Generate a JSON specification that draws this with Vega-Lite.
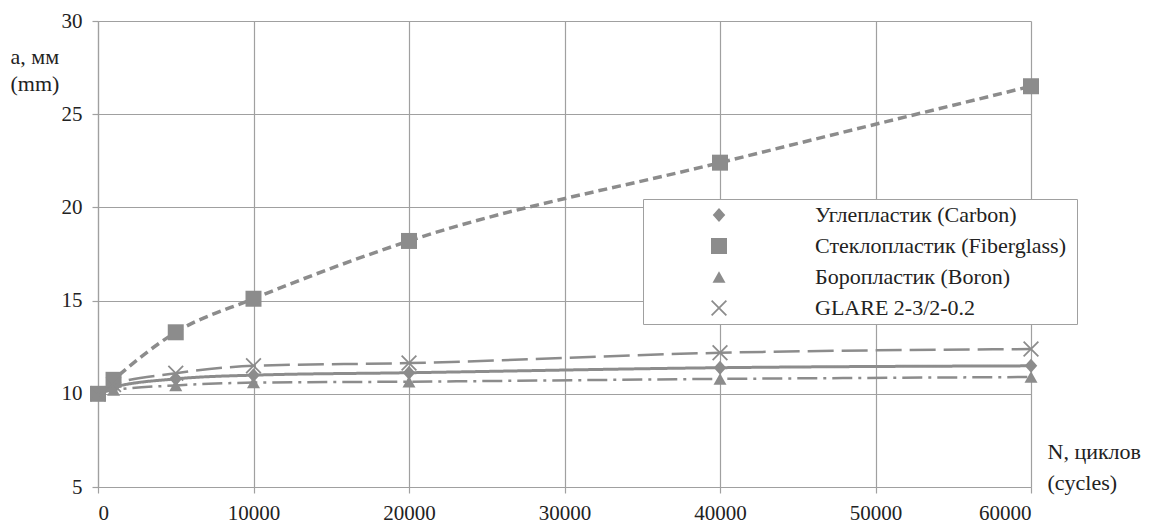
{
  "$schema": "https://vega.github.io/schema/vega-lite/v6.json",
  "width": 933,
  "height": 466,
  "autosize": {"type": "none"},
  "padding": {"left": 98, "top": 21, "right": 133, "bottom": 37},
  "background": "white",
  "config": {
    "view": {"stroke": null},
    "axis": {
      "grid": true,
      "gridColor": "#a0a0a0",
      "gridWidth": 1.2,
      "domainColor": "#a0a0a0",
      "domainWidth": 1.2,
      "tickColor": "#a0a0a0",
      "tickWidth": 1.2,
      "tickSize": 6,
      "labelFont": "Liberation Serif",
      "labelFontSize": 21,
      "labelColor": "#222222",
      "titleFont": "Liberation Serif",
      "titleFontSize": 22,
      "titleFontWeight": "normal",
      "titleColor": "#222222"
    }
  },
  "data": {
    "values": [
      {"N": 0, "a": 10.0, "series": "Углепластик  (Carbon)"},
      {"N": 1000, "a": 10.35, "series": "Углепластик  (Carbon)"},
      {"N": 5000, "a": 10.8, "series": "Углепластик  (Carbon)"},
      {"N": 10000, "a": 11.0, "series": "Углепластик  (Carbon)"},
      {"N": 20000, "a": 11.13, "series": "Углепластик  (Carbon)"},
      {"N": 40000, "a": 11.4, "series": "Углепластик  (Carbon)"},
      {"N": 60000, "a": 11.5, "series": "Углепластик  (Carbon)"},
      {"N": 0, "a": 10.0, "series": "Стеклопластик  (Fiberglass)"},
      {"N": 1000, "a": 10.75, "series": "Стеклопластик  (Fiberglass)"},
      {"N": 5000, "a": 13.3, "series": "Стеклопластик  (Fiberglass)"},
      {"N": 10000, "a": 15.1, "series": "Стеклопластик  (Fiberglass)"},
      {"N": 20000, "a": 18.2, "series": "Стеклопластик  (Fiberglass)"},
      {"N": 40000, "a": 22.4, "series": "Стеклопластик  (Fiberglass)"},
      {"N": 60000, "a": 26.5, "series": "Стеклопластик  (Fiberglass)"},
      {"N": 0, "a": 10.0, "series": "Боропластик (Boron)"},
      {"N": 1000, "a": 10.2, "series": "Боропластик (Boron)"},
      {"N": 5000, "a": 10.45, "series": "Боропластик (Boron)"},
      {"N": 10000, "a": 10.6, "series": "Боропластик (Boron)"},
      {"N": 20000, "a": 10.65, "series": "Боропластик (Boron)"},
      {"N": 40000, "a": 10.8, "series": "Боропластик (Boron)"},
      {"N": 60000, "a": 10.9, "series": "Боропластик (Boron)"},
      {"N": 0, "a": 10.0, "series": "GLARE 2-3/2-0.2"},
      {"N": 1000, "a": 10.5, "series": "GLARE 2-3/2-0.2"},
      {"N": 5000, "a": 11.1, "series": "GLARE 2-3/2-0.2"},
      {"N": 10000, "a": 11.5, "series": "GLARE 2-3/2-0.2"},
      {"N": 20000, "a": 11.65, "series": "GLARE 2-3/2-0.2"},
      {"N": 40000, "a": 12.2, "series": "GLARE 2-3/2-0.2"},
      {"N": 60000, "a": 12.4, "series": "GLARE 2-3/2-0.2"}
    ]
  },
  "encoding": {
    "x": {
      "field": "N",
      "type": "quantitative",
      "scale": {"domain": [0, 60000], "nice": false, "zero": false},
      "axis": {
        "values": [0, 10000, 20000, 30000, 40000, 50000, 60000],
        "format": "d",
        "labelPadding": 9,
        "title": ["N, циклов", "(cycles)"],
        "titleAlign": "left",
        "titleAnchor": "start",
        "titleBaseline": "top",
        "titleX": 949,
        "titleY": -46,
        "titleLineHeight": 31
      }
    },
    "y": {
      "field": "a",
      "type": "quantitative",
      "scale": {"domain": [5, 30], "nice": false, "zero": false},
      "axis": {
        "values": [5, 10, 15, 20, 25, 30],
        "labelPadding": 10,
        "title": ["a, мм", "(mm)"],
        "titleAngle": 0,
        "titleAlign": "left",
        "titleAnchor": "start",
        "titleBaseline": "top",
        "titleX": -88,
        "titleY": 25,
        "titleLineHeight": 27
      }
    }
  },
  "layer": [
    {
      "mark": {"type": "line", "interpolate": "monotone", "color": "#8c8c8c"},
      "encoding": {
        "detail": {"field": "series", "type": "nominal"},
        "strokeDash": {
          "field": "series",
          "type": "nominal",
          "scale": {
            "domain": ["GLARE 2-3/2-0.2", "Боропластик (Boron)", "Стеклопластик  (Fiberglass)", "Углепластик  (Carbon)"],
            "range": [[26, 8], [20, 6, 3, 6], [9, 5], [1, 0]]
          },
          "legend": null
        },
        "strokeWidth": {
          "field": "series",
          "type": "nominal",
          "scale": {
            "type": "ordinal",
            "domain": ["Боропластик (Boron)", "GLARE 2-3/2-0.2", "Углепластик  (Carbon)", "Стеклопластик  (Fiberglass)"],
            "range": [2.5, 2.5, 3, 3.5]
          },
          "legend": null
        }
      }
    },
    {
      "mark": {"type": "point", "filled": true, "color": "#8c8c8c", "size": 100, "opacity": 1},
      "encoding": {
        "shape": {
          "field": "series",
          "type": "nominal",
          "scale": {
            "domain": ["Углепластик  (Carbon)", "Стеклопластик  (Fiberglass)", "Боропластик (Boron)", "GLARE 2-3/2-0.2"],
            "range": [
              "M0,-1.4L1.25,0L0,1.4L-1.25,0Z",
              "M-1.6,-1.6H1.6V1.6H-1.6Z",
              "M0,-1.15L1.3,1.15H-1.3Z",
              "M-1.6,-1.35L-1.35,-1.6L0,-0.25L1.35,-1.6L1.6,-1.35L0.25,0L1.6,1.35L1.35,1.6L0,0.25L-1.35,1.6L-1.6,1.35L-0.25,0Z"
            ]
          },
          "legend": {
            "orient": "none",
            "legendX": 545,
            "legendY": 178,
            "title": null,
            "fillColor": "white",
            "strokeColor": "#a0a0a0",
            "padding": 5,
            "labelFont": "Liberation Serif",
            "labelFontSize": 22,
            "labelColor": "#222222",
            "labelLimit": 500,
            "labelOffset": 85,
            "symbolOffset": 60,
            "rowPadding": 9,
            "symbolSize": 100,
            "symbolOpacity": 1
          }
        }
      }
    }
  ]
}
